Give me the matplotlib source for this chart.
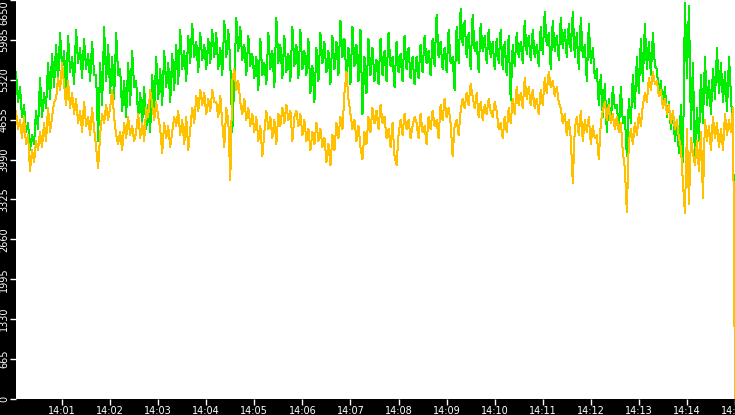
import numpy as np
import matplotlib
matplotlib.use("Agg")
import matplotlib.pyplot as plt

# samples every 2.5 s, first one at 14:00:02.5
t_start = 2.5
t_step = 2.5

green = [
    5450, 4950, 5200, 4700, 4900, 4450, 4600, 4150, 4400, 4250, 4800, 4500, 5350, 4700, 5100, 4850, 5600, 5000, 5750, 5200,
    5900, 5300, 6100, 5500, 5800, 5100, 6050, 5450, 5700, 5250, 6150, 5600, 5850, 5350, 6000, 5500, 5750, 5300, 5950, 5400,
    5400, 4300, 5600, 4900, 6200, 5300, 5900, 5100, 5700, 5000, 6100, 5400, 5500, 4800, 5300, 4700, 5600, 4900, 5800, 5200,
    5300, 4700, 5100, 4600, 5200, 4500, 4900, 4450, 5400, 4800, 5700, 5000, 5500, 4900, 5800, 5200, 5600, 4950, 5750, 5150,
    5900, 5250, 6150, 5500, 5800, 5300, 6050, 5600, 6250, 5700, 5950, 5450, 6100, 5650, 5900, 5500, 6000, 5600, 6150, 5700,
    6100, 5500, 5850, 5400, 6300, 5700, 6150, 5600, 4450, 5300, 6350, 5800, 6200, 5650, 5900, 5400, 6050, 5550, 5750, 5350,
    5700, 5150, 6000, 5400, 5600, 5250, 6100, 5500, 5800, 5200, 6350, 5600, 5900, 5350, 6050, 5450, 5750, 5300, 6200, 5550,
    5900, 5350, 6150, 5500, 5800, 5400, 6000, 5100, 5550, 4950, 5850, 5300, 6100, 5600, 5950, 5450, 5800, 5250, 6050, 5500,
    5950, 5400, 6300, 5700, 6000, 5350, 5850, 5250, 6200, 5550, 5900, 5300, 6150, 4750, 5700, 5100, 6000, 5400, 5850, 5300,
    5650, 5250, 6000, 5400, 5800, 5300, 6100, 5550, 5700, 5200, 5950, 5450, 5750, 5300, 6050, 5500, 5850, 5350, 5700, 5250,
    5700, 5350, 5900, 5450, 6050, 5600, 5800, 5400, 6000, 5550, 6400, 5700, 5950, 5500, 5850, 5450, 6150, 5600, 5700, 5150,
    6200, 5600, 6500, 5900, 6300, 5700, 6100, 5500, 6400, 5800, 5950, 5450, 6250, 5800, 6050, 5600, 6150, 5700, 5950, 5500,
    6000, 5600, 6150, 5500, 5950, 5400, 6050, 4980, 5900, 5550, 6100, 5700, 5950, 5600, 6300, 5750, 6050, 5650, 6150, 5700,
    5900, 5550, 6200, 5750, 6450, 5900, 6100, 5500, 6300, 5800, 6050, 5650, 6350, 5850, 6150, 5700, 6250, 5800, 6450, 5700,
    6100, 5500, 6350, 5700, 5900, 5300, 6250, 5600, 5850, 5350, 5500, 4900, 5400, 4700, 5250, 4450, 5000, 4600, 5200, 4850,
    4900, 4450, 5200, 4600, 4700, 4050, 5000, 4600, 5400, 4850, 5700, 5100, 6000, 5300, 6250, 5500, 5950, 5400, 6100, 5550,
    5500, 5050, 5300, 4850, 5200, 4700, 4950, 4500, 4800, 4300, 4600, 4100, 4900, 3950, 6600, 5350, 6550, 4500, 5600, 3900,
    4850, 4300, 5400, 4600, 5700, 4900, 5300, 4750, 5500, 5000, 5850, 5100, 5600, 4950, 5450, 4800, 5700, 5050, 4350, 1980,
]

orange = [
    4800, 4500, 4650, 4350, 4700, 4250, 4400, 3800, 4150, 3950, 4300, 4150, 4450, 4200, 4600, 4300, 4850, 4450, 4700, 4950,
    5000, 5350, 5150, 5600, 5250, 4900, 5300, 4850, 5100, 4750, 5000, 4600, 4800, 4450, 4950, 4550, 4700, 4400, 4850, 4500,
    4200, 3850, 4400, 4750, 4600, 4900, 4650, 4850, 5150, 4700, 4400, 4250, 4450, 4150, 4600, 4350, 4700, 4400, 4550, 4300,
    4450, 4750, 4350, 4600, 4300, 4850, 4700, 5150, 4900, 4650, 4950, 4700, 4500, 4100, 4600, 4350, 4550, 4200, 4450, 4700,
    4550, 4800, 4400, 4650, 4250, 4700, 4150, 4500, 4850, 4600, 5050, 4800, 5150, 4900, 5100, 4750, 5000, 4800, 5150, 4950,
    4950, 4700, 5050, 4600, 4200, 4850, 4650, 3650, 5300, 5500, 5150, 5300, 4950, 4750, 5000, 4650, 4850, 4550, 4750, 4450,
    4700, 4300, 4550, 4050, 4450, 4800, 4500, 4700, 4350, 4650, 4250, 4750, 4550, 4850, 4600, 4900, 4650, 4800, 4300, 4700,
    4800, 4550, 4750, 4400, 4650, 4300, 4500, 4150, 4450, 4250, 4600, 4300, 4500, 4200, 4350, 3950, 4250, 3900, 4400, 4150,
    4600, 4350, 4700, 4500, 5100, 5450, 5000, 4750, 4500, 4650, 4300, 4550, 4200, 4000, 4450, 4250, 4700, 4450, 4850, 4600,
    4800, 4500, 4900, 4600, 4700, 4350, 4500, 4200, 4600, 4050, 3900, 4400, 4650, 4400, 4750, 4500, 4650, 4350, 4550, 4700,
    4600, 4350, 4750, 4450, 4550, 4250, 4700, 4500, 4800, 4550, 4650, 4350, 4900, 4650, 5000, 4700, 4850, 4600, 4050, 4550,
    4650, 4400, 4800, 5000, 4850, 5100, 4900, 5250, 5050, 4850, 5100, 4700, 4950, 4650, 4900, 4750, 5000, 4800, 4700, 4950,
    4800, 4500, 4600, 4350, 4700, 4450, 4850, 4600, 5000, 4750, 5200, 4900, 5100, 4850, 5350, 5000, 5200, 4900, 5150, 4850,
    5000, 4750, 5150, 4900, 5350, 5100, 5450, 5200, 5300, 5050, 5200, 4950, 4850, 4600, 4750, 4400, 4650, 4350, 3600, 4500,
    4700, 4400, 4800, 4300, 4650, 4450, 4700, 4250, 4550, 4350, 4400, 4000, 4600, 4800, 4950, 4650, 4900, 4600, 4750, 4500,
    4700, 4450, 4600, 4100, 3850, 3120, 4300, 4500, 4250, 4600, 4400, 4750, 4550, 4900, 5100, 4950, 5350, 5150, 5450, 5250,
    5300, 5050, 5150, 4850, 5000, 4750, 4900, 4600, 4800, 4500, 4650, 4350, 4200, 3600, 3100, 4500, 3250, 4350, 4100, 3900,
    4300, 3800, 4450, 3350, 4650, 4300, 4550, 4150, 4700, 4350, 4600, 4200, 4500, 4150, 4750, 4400, 4650, 4450, 4850, 0,
]

y_ticks = [0, 665, 1330, 1995, 2660, 3325, 3990, 4655, 5320, 5985, 6650]
x_ticks = [60, 120, 180, 240, 300, 360, 420, 480, 540, 600, 660, 720, 780, 840, 900]
x_labels = ['14:01', '14:02', '14:03', '14:04', '14:05', '14:06', '14:07', '14:08',
            '14:09', '14:10', '14:11', '14:12', '14:13', '14:14', '14:15']

t = t_start + t_step * np.arange(len(green))

fig = plt.figure(figsize=(7.35, 4.15), dpi=100, facecolor='black')
ax = fig.add_axes([16/735, 16/415, 719/735, 399/415])
ax.set_facecolor('white')

ax.plot(t, green, color='#00ee00', lw=0.72, antialiased=False)
ax.plot(t, orange, color='#ffc000', lw=0.72, antialiased=False)

ax.set_xlim(t_start, 900)
ax.set_ylim(0, 6650)
ax.set_xticks(x_ticks)
ax.set_xticklabels(x_labels)
ax.set_yticks(y_ticks)
ax.set_yticklabels([str(v) for v in y_ticks], rotation=90, va='center')
ax.tick_params(colors='white', labelsize=7, length=4, width=1, pad=1)
ax.get_yticklabels()[-1].set_va('top')  # keep the top label inside the figure
for s in ax.spines.values():
    s.set_visible(False)

fig.savefig('out.png', dpi=100, facecolor='black')
